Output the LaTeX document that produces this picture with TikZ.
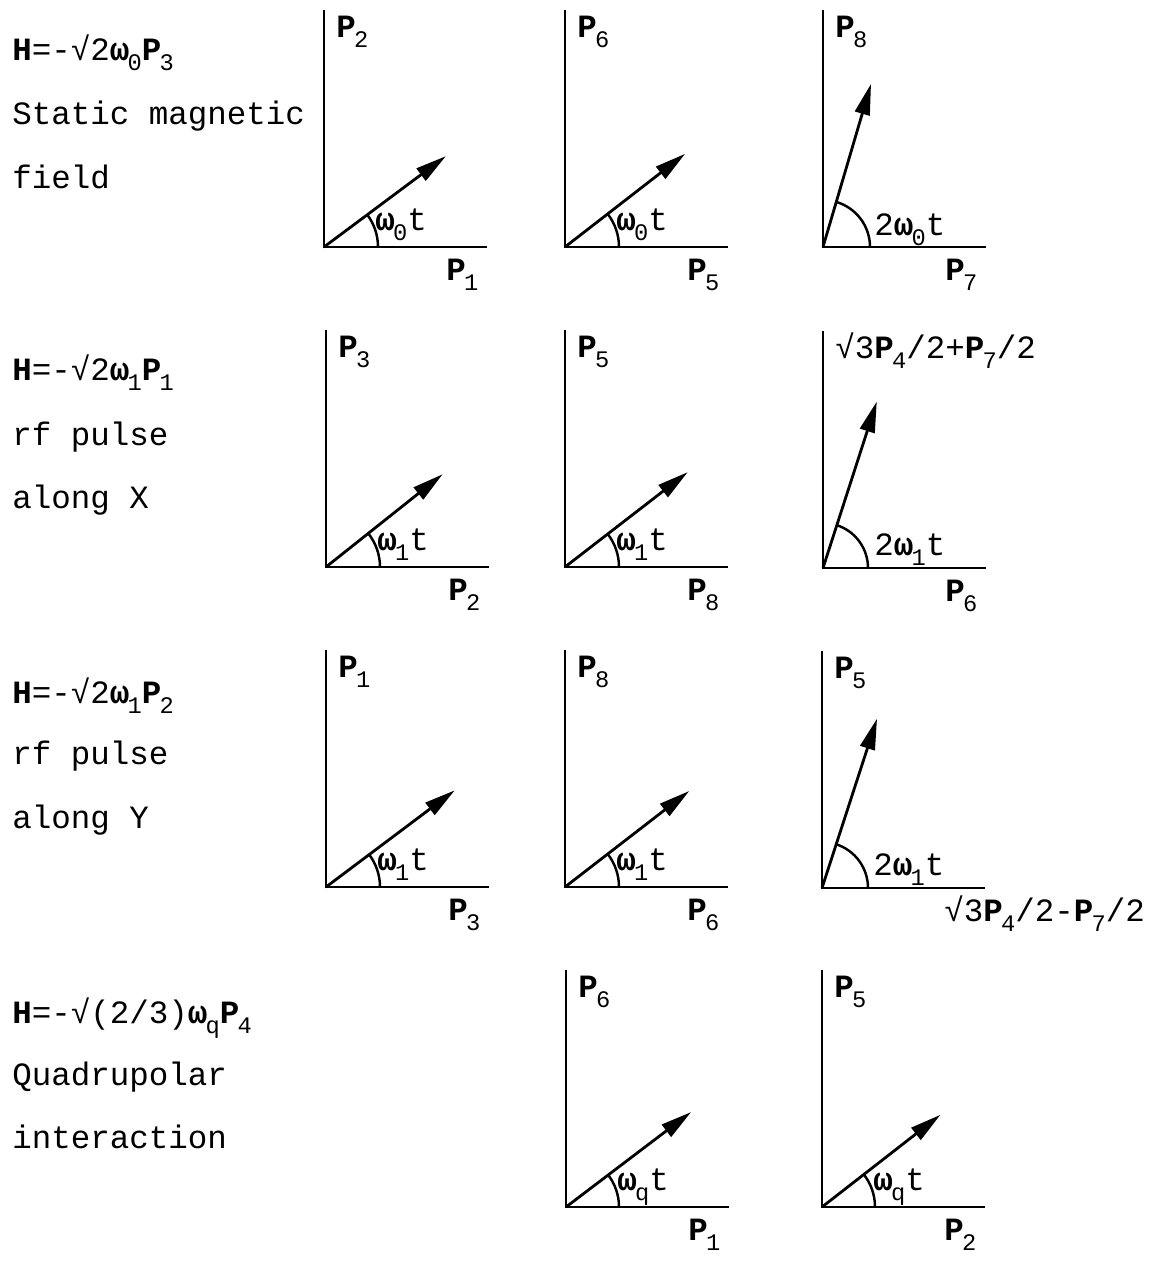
\documentclass[tikz,border=0pt]{standalone}
\usepackage{fontspec}
\setmainfont{Liberation Mono}
\usetikzlibrary{arrows.meta}

% lowered index, as in the typed original
\newcommand{\lowix}[1]{\raisebox{-6pt}{\fontsize{13.5}{13.5}\selectfont\kern-1pt #1}}
\newcommand{\Pn}[1]{\textbf{P}\lowix{#1}}
\newcommand{\wn}[1]{\textbf{ω}\lowix{#1}}

\begin{document}
\begin{tikzpicture}[
    x=0.02cm, y=0.02cm,
    every node/.style={font=\fontsize{18.5}{22}\selectfont, text=black, inner sep=0pt},
    axis/.style={line width=1.4pt},
    vec/.style={line width=1.6pt, -{Triangle[length=0.62cm, width=0.3cm]}},
    angarc/.style={line width=1.4pt}
]
    \useasboundingbox (0,0) rectangle (1153,-1261);

    % ==========================
    % LEFT COLUMN: Hamiltonians
    % ==========================
    \foreach \i/\y/\txt in {
        1/60/{\textbf{H}=-√2\wn{0}\Pn{3}},
        2/124/{Static magnetic},
        3/188/{field},
        4/380/{\textbf{H}=-√2\wn{1}\Pn{1}},
        5/445/{rf pulse},
        6/508/{along X},
        7/703/{\textbf{H}=-√2\wn{1}\Pn{2}},
        8/764/{rf pulse},
        9/828/{along Y},
        10/1023/{\textbf{H}=-√(2/3)\wn{q}\Pn{4}},
        11/1085/{Quadrupolar},
        12/1148/{interaction}}
    {
        \node[anchor=base west] (txt\i) at (12,-\y) {\txt};
    }

    % ==========================
    % ROTATION DIAGRAMS
    % ==========================
    % name / origin x / origin y / angle / length / arc radius / label drop / y label / x label / angle label
    \foreach \d/\ox/\oy/\a/\l/\r/\ly/\ylab/\xlab/\alab in {
        11/324/247/36.7/152/54/17/{\Pn{2}}/{\Pn{1}}/{\wn{0}t},
        12/565/247/37.8/152/54/17/{\Pn{6}}/{\Pn{5}}/{\wn{0}t},
        13/823/247/73.6/170/47/12/{\Pn{8}}/{\Pn{7}}/{2\wn{0}t},
        21/326/567/38.5/149/54/17/{\Pn{3}}/{\Pn{2}}/{\wn{1}t},
        22/565/567/37.7/155/54/17/{\Pn{5}}/{\Pn{8}}/{\wn{1}t},
        23/823/568/72.1/175/45/13/{√3\Pn{4}/2+\Pn{7}/2}/{\Pn{6}}/{2\wn{1}t},
        31/326/887/36.9/161/54/17/{\Pn{1}}/{\Pn{3}}/{\wn{1}t},
        32/565/887/37.7/157/54/17/{\Pn{8}}/{\Pn{6}}/{\wn{1}t},
        33/822/888/72.0/178/46/13/{\Pn{5}}/{√3\Pn{4}/2-\Pn{7}/2}/{2\wn{1}t},
        42/566/1207/37.2/157/53/17/{\Pn{6}}/{\Pn{1}}/{\wn{q}t},
        43/822/1207/37.9/150/53/17/{\Pn{5}}/{\Pn{2}}/{\wn{q}t}}
    {
        \coordinate (O\d) at (\ox,-\oy);
        \coordinate (Y\d) at (\ox,237-\oy);
        \coordinate (X\d) at (\ox+163,-\oy);
        \coordinate (T\d) at ([shift={(\a:\l)}]O\d);

        \draw[axis] (Y\d) -- (O\d) -- (X\d);
        \draw[vec] (O\d) -- (T\d);
        \draw[angarc] ([shift={(0:\r)}]O\d) arc[start angle=0, end angle=\a, radius=\r];

        \node[anchor=base west] (ylab\d) at (\ox+12,210-\oy) {\ylab};
        \node[anchor=base west] (xlab\d) at (\ox+122,-\oy-33) {\xlab};
        \node[anchor=base west] (alab\d) at (\ox+51,\ly-\oy) {\alab};
    }

\end{tikzpicture}
\end{document}
